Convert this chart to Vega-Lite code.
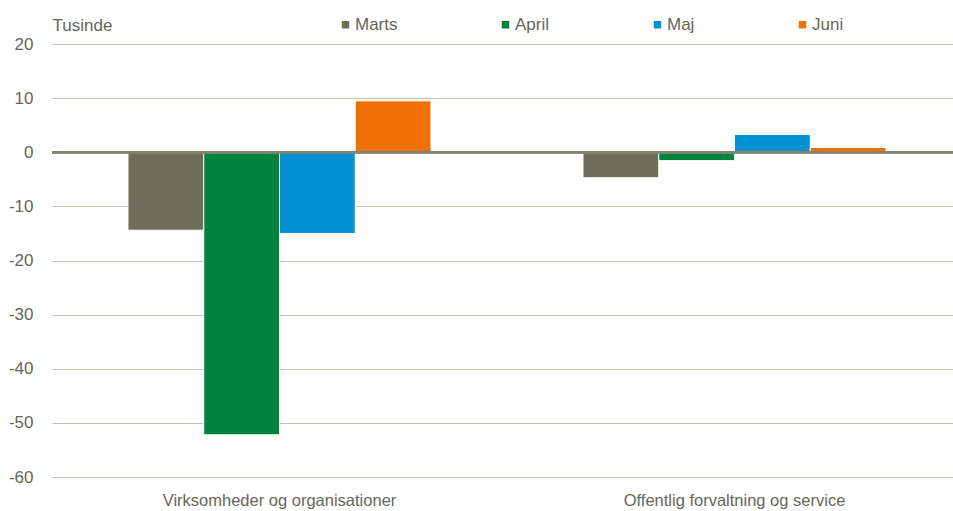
{
  "$schema": "https://vega.github.io/schema/vega-lite/v6.json",
  "width": 901,
  "height": 433,
  "autosize": {"type": "none"},
  "padding": {"left": 52, "top": 44, "right": 0, "bottom": 34},
  "background": "white",
  "config": {
    "view": {"stroke": null},
    "font": "Liberation Sans"
  },
  "data": {
    "values": [
      {"sector": "Virksomheder og organisationer", "month": "Marts", "value": -14.4},
      {"sector": "Virksomheder og organisationer", "month": "April", "value": -52.2},
      {"sector": "Virksomheder og organisationer", "month": "Maj", "value": -15.0},
      {"sector": "Virksomheder og organisationer", "month": "Juni", "value": 9.5},
      {"sector": "Offentlig forvaltning og service", "month": "Marts", "value": -4.7},
      {"sector": "Offentlig forvaltning og service", "month": "April", "value": -1.55},
      {"sector": "Offentlig forvaltning og service", "month": "Maj", "value": 3.3},
      {"sector": "Offentlig forvaltning og service", "month": "Juni", "value": 0.9}
    ]
  },
  "layer": [
    {
      "mark": {"type": "bar", "stroke": "white", "strokeWidth": 1},
      "encoding": {
        "x": {
          "field": "sector",
          "type": "nominal",
          "sort": ["Virksomheder og organisationer", "Offentlig forvaltning og service"],
          "scale": {"range": [0, 910], "paddingInner": 0.334, "paddingOuter": 0.167},
          "axis": {
            "title": null,
            "orient": "bottom",
            "domain": false,
            "ticks": false,
            "grid": false,
            "labelAngle": 0,
            "labelPadding": 15,
            "labelLimit": 0,
            "labelFontSize": 16.5,
            "labelColor": "#666658",
            "labelFont": "Liberation Sans"
          }
        },
        "xOffset": {
          "field": "month",
          "type": "nominal",
          "sort": ["Marts", "April", "Maj", "Juni"],
          "scale": {"paddingInner": 0, "paddingOuter": 0}
        },
        "y": {
          "field": "value",
          "type": "quantitative",
          "scale": {"domain": [-60, 20], "nice": false, "zero": false},
          "axis": {
            "values": [-60, -50, -40, -30, -20, -10, 0, 10, 20],
            "labelExpr": "datum.value + ''",
            "domain": false,
            "ticks": false,
            "grid": true,
            "gridColor": "#C4C3B6",
            "gridWidth": 1,
            "labelPadding": 19,
            "labelFontSize": 17,
            "labelColor": "#666658",
            "labelFont": "Liberation Sans",
            "title": "Tusinde",
            "titleAngle": 0,
            "titleAlign": "left",
            "titleBaseline": "middle",
            "titleX": 0,
            "titleY": -19,
            "titleFontSize": 17,
            "titleFontWeight": "normal",
            "titleColor": "#666658",
            "titleFont": "Liberation Sans"
          }
        },
        "color": {
          "field": "month",
          "type": "nominal",
          "scale": {
            "domain": ["Marts", "April", "Maj", "Juni"],
            "range": ["#6E6C5B", "#00843D", "#0091D5", "#EE7203"]
          },
          "legend": {
            "orient": "none",
            "legendX": 285,
            "legendY": -28,
            "direction": "horizontal",
            "title": null,
            "symbolType": "square",
            "symbolSize": 56,
            "symbolStrokeWidth": 0,
            "labelFontSize": 17,
            "labelColor": "#666658",
            "labelFont": "Liberation Sans",
            "labelOffset": 1,
            "columnPadding": 99,
            "padding": 0
          }
        }
      }
    },
    {
      "mark": {"type": "rule", "color": "#858372", "strokeWidth": 2},
      "encoding": {"y": {"datum": 0, "type": "quantitative"}}
    }
  ]
}
